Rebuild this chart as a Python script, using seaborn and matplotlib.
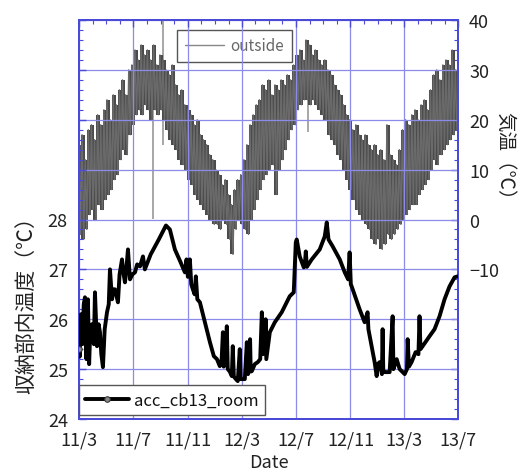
import numpy as np
import pandas as pd
import matplotlib
matplotlib.use("Agg")
import matplotlib.pyplot as plt
import matplotlib.dates as mdates
from matplotlib.ticker import MultipleLocator, FuncFormatter
import seaborn as sns

sns.set_style("white")
plt.rcParams['font.family'] = ['Noto Sans CJK JP', 'DejaVu Sans']

# ---------------- data ----------------
start_date = "2011-03-01"
end_date = "2013-07-01"

# outside air temperature: weekly high / low envelope (deg C)
outside_hi = [15, 17, 12, 18, 19, 16, 21, 19, 22, 24, 20, 25, 23, 26, 28, 25, 30, 31, 34, 32,
              35, 33, 34, 32, 35, 31, 33, 32, 30, 29, 31, 27, 25, 26, 23, 22, 21, 19, 20, 17,
              16, 15, 13, 12, 10, 9, 7, 8, 5, 3, 6, 8, 9, 12, 15, 19, 21, 23, 24, 27,
              26, 28, 25, 27, 26, 28, 27, 29, 28, 31, 33, 34, 32, 36, 35, 33, 34, 32, 31, 32,
              30, 29, 27, 26, 25, 23, 21, 20, 18, 19, 17, 16, 17, 15, 14, 15, 13, 14, 12, 19,
              13, 12, 11, 14, 18, 20, 19, 21, 22, 20, 23, 24, 22, 26, 29, 30, 28, 31, 32, 31,
              34, 30]
outside_lo = [-3, -4, -2, 1, 2, 0, 3, 2, 4, 5, 6, 8, 9, 12, 14, 13, 17, 19, 21, 22,
              21, 23, 22, 20, 22, 21, 22, 20, 18, 16, 15, 14, 12, 11, 10, 8, 7, 5, 4, 3,
              2, 1, 0, -1, -1, -2, 0, -1, -4, -7, -2, 0, -1, -2, -3, 0, 2, 4, 6, 8,
              9, 10, 11, 5, 10, 12, 14, 16, 18, 19, 22, 23, 24, 24, 23, 24, 23, 22, 21, 20,
              17, 16, 15, 13, 12, 10, 8, 6, 4, 2, 1, 0, -1, -2, -4, -5, -4, -6, -5, -3,
              -4, -3, -2, -1, 0, 1, 2, 3, 3, 5, 6, 7, 8, 10, 12, 11, 13, 14, 15, 16,
              17, 18]
# isolated light-grey spikes (months since 2011/3, low, high)
spike_month = [5.47, 6.2, 16.9]
spike_lo = [0.2, 15, 17.6]
spike_hi = [27.6, 40, 26]

# storage room temperature (months since 2011/3, deg C)
room_month = [0.0, 0.05, 0.15, 0.25, 0.35, 0.44, 0.55, 0.66, 0.75, 0.81, 0.95, 1.1, 1.18, 1.33,
              1.45, 1.55, 1.65, 1.77, 1.9, 2.07, 2.2, 2.29, 2.44, 2.55, 2.66, 2.88, 3.0, 3.18,
              3.3, 3.4, 3.5, 3.62, 3.77, 3.95, 4.14, 4.3, 4.51, 4.73, 4.87, 5.3, 5.9, 6.43,
              6.72, 7.09, 7.5, 7.83, 7.95, 8.05, 8.2, 8.3, 8.42, 8.55, 8.64, 8.75, 8.94, 9.31,
              9.68, 9.97, 10.2, 10.41, 10.55, 10.64, 10.7, 10.85, 10.93, 11.0, 11.15, 11.3,
              11.37, 11.45, 11.6, 11.74, 11.89, 11.95, 12.1, 12.26, 12.41, 12.5, 12.65, 12.7,
              12.78, 13.0, 13.22, 13.4, 13.52, 13.6, 13.74, 13.8, 13.85, 14.11, 14.48, 14.99,
              15.58, 15.88, 16.03, 16.1, 16.32, 16.62, 16.7, 16.77, 16.85, 17.21, 17.8, 18.17,
              18.32, 18.45, 18.76, 19.28, 19.65, 19.9, 20.01, 20.1, 20.16, 20.75, 21.12, 21.34,
              21.4, 21.64, 21.86, 22.01, 22.1, 22.23, 22.4, 22.45, 22.5, 22.6, 22.97, 23.19,
              23.25, 23.49, 23.71, 24.08, 24.25, 24.3, 24.4, 24.59, 24.89, 25.1, 25.18, 25.25,
              25.41, 25.92, 26.29, 26.66, 27.03, 27.4, 27.77, 27.99]
room_temp = [25.4, 25.25, 26.1, 25.5, 26.3, 26.44, 25.2, 26.4, 25.1, 25.6, 25.9, 25.5, 26.54, 25.46,
             25.9, 25.74, 25.3, 25.04, 25.8, 26.14, 26.3, 27.0, 26.4, 26.6, 26.6, 26.34, 26.9, 27.2,
             26.9, 26.74, 27.0, 27.4, 26.8, 26.9, 26.94, 27.1, 27.06, 27.26, 27.0, 27.3, 27.6, 27.88,
             27.8, 27.4, 27.15, 26.94, 27.2, 26.85, 27.2, 26.7, 26.6, 26.5, 26.86, 26.4, 26.34, 25.94,
             25.54, 25.26, 25.2, 25.06, 25.2, 25.74, 25.05, 25.3, 25.86, 25.0, 24.95, 24.86,
             25.46, 24.85, 24.8, 24.76, 25.4, 24.8, 24.8, 24.8, 25.54, 24.9, 25.6, 24.95,
             24.96, 25.1, 25.14, 25.2, 26.14, 25.3, 25.46, 26.0, 25.2, 25.74, 25.94, 26.14,
             26.46, 26.54, 27.54, 27.6, 27.26, 27.04, 27.1, 27.36, 27.05, 27.2, 27.4, 27.66,
             27.94, 27.6, 27.46, 27.2, 26.94, 26.8, 27.34, 26.7, 26.66, 26.2, 25.94, 26.14,
             25.8, 25.46, 25.14, 24.86, 25.1, 25.14, 24.9, 25.8, 24.95, 24.94, 24.94, 26.06,
             25.0, 25.2, 25.0, 24.9, 25.0, 25.6, 25.05, 25.14, 25.34, 25.3, 26.06, 25.4,
             25.46, 25.66, 25.8, 26.06, 26.4, 26.66, 26.84, 26.86]

left_ticks = [24, 25, 26, 27, 28]
right_ticks = [-10, 0, 10, 20, 30, 40]
outside_name = "outside"
room_name = "acc_cb13_room"
xlabel = "Date"
left_label = "収納部内温度（℃）"
right_label = "気温（℃）"

# ---------------- build frames ----------------
base = pd.Timestamp(start_date)
month_days = 30.4375
week_dates = pd.date_range(base, periods=len(outside_hi), freq="7D")
zz_x, zz_y = [], []
for d, h, l in zip(week_dates, outside_hi, outside_lo):
    zz_x += [d, d + pd.Timedelta(days=3.5)]
    zz_y += [h, l]
df_out = pd.DataFrame({"date": zz_x, "temp": zz_y})

room_dates = base + pd.to_timedelta(np.array(room_month) * month_days, unit="D")
df_room = pd.DataFrame({"date": room_dates, "temp": room_temp})
spike_dates = base + pd.to_timedelta(np.array(spike_month) * month_days, unit="D")

# ---------------- figure ----------------
W, H = 526, 477
fig = plt.figure(figsize=(W / 100, H / 100), dpi=100)
ax = fig.add_axes([79 / W, 1 - 420 / H, (458 - 79) / W, (420 - 21) / H])
ax2 = ax.twinx()

blue = "#4a4ad8"
gridc = "#8c8ce8"
band = "#4b4b4b"

# outside (right axis)
ax2.vlines(spike_dates, spike_lo, spike_hi, color="#a0a0a0", lw=1.3, zorder=2)
ax2.vlines(week_dates + pd.Timedelta(days=1.75), outside_lo, outside_hi,
           color=band, lw=2.9, zorder=3)
sns.lineplot(data=df_out, x="date", y="temp", ax=ax2, sort=False, estimator=None,
             color="#6a6a6a", lw=1.0, label=outside_name, zorder=4)

# room (left axis)
sns.lineplot(data=df_room, x="date", y="temp", ax=ax, sort=False, estimator=None,
             color="black", lw=2.8, marker="o", markevery=[0], markersize=4,
             markerfacecolor="#888888", markeredgecolor="#333333", label=room_name, zorder=5)
ax.set_zorder(ax2.get_zorder() + 1)
ax.patch.set_visible(False)

# limits
ax.set_xlim(pd.Timestamp(start_date), pd.Timestamp(end_date))
ax.set_ylim(24, 32)
ax2.set_ylim(-40, 40)

# ticks
ax.xaxis.set_major_locator(mdates.MonthLocator(bymonth=[3, 7, 11]))
ax.xaxis.set_minor_locator(mdates.MonthLocator())
ax.xaxis.set_major_formatter(FuncFormatter(
    lambda v, p: f"{mdates.num2date(v).year % 100}/{mdates.num2date(v).month}"))
ax.yaxis.set_major_locator(MultipleLocator(1))
ax.yaxis.set_minor_locator(MultipleLocator(0.2))
ax.yaxis.set_major_formatter(FuncFormatter(lambda v, p: f"{v:.0f}" if round(v) in left_ticks else ""))
ax2.yaxis.set_major_locator(MultipleLocator(10))
ax2.yaxis.set_minor_locator(MultipleLocator(2))
ax2.yaxis.set_major_formatter(FuncFormatter(
    lambda v, p: (f"{v:.0f}".replace("-", "−")) if round(v) in right_ticks else ""))

for a in (ax, ax2):
    a.tick_params(which="both", direction="in", color=blue, labelsize=13, labelcolor="#222222")
    a.tick_params(which="major", length=5, width=1)
    a.tick_params(which="minor", length=3, width=0.8)
    for s in a.spines.values():
        s.set_color(blue)
        s.set_linewidth(1.4)
ax.tick_params(which="both", top=True, right=False)
ax2.tick_params(which="both", left=False, right=True)
ax.tick_params(axis="x", pad=8)
ax.tick_params(axis="y", pad=8)
ax2.tick_params(axis="y", pad=8)

ax.grid(True, which="major", color=gridc, lw=0.9, ls="-")
ax2.grid(False)

# labels
ax.set_xlabel(xlabel, fontsize=13, color="#222222")
ax.xaxis.set_label_coords(0.5, -0.085)
ax.set_ylabel(left_label, fontsize=15, color="#222222")
ax.yaxis.set_label_coords(-0.11, 0.30)
ax2.set_ylabel(right_label, fontsize=14, color="#222222", rotation=-90, va="center")
ax2.yaxis.set_label_coords(1.125, 0.65)

# legends
leg2 = ax2.legend(loc="center", bbox_to_anchor=(0.41, 0.935), fontsize=11, frameon=True,
                  fancybox=False, edgecolor="#555555", framealpha=1, handlelength=2.6,
                  borderpad=0.5, handletextpad=0.4)
for t in leg2.get_texts():
    t.set_color("#666666")
for l in leg2.get_lines():
    l.set_color("#888888")
leg = ax.legend(loc="center", bbox_to_anchor=(0.245, 0.048), fontsize=12, frameon=True,
                fancybox=False, edgecolor="#555555", framealpha=1, handlelength=2.6,
                borderpad=0.4, handletextpad=0.3)
for t in leg.get_texts():
    t.set_color("#111111")

fig.savefig("out.png", dpi=100)
